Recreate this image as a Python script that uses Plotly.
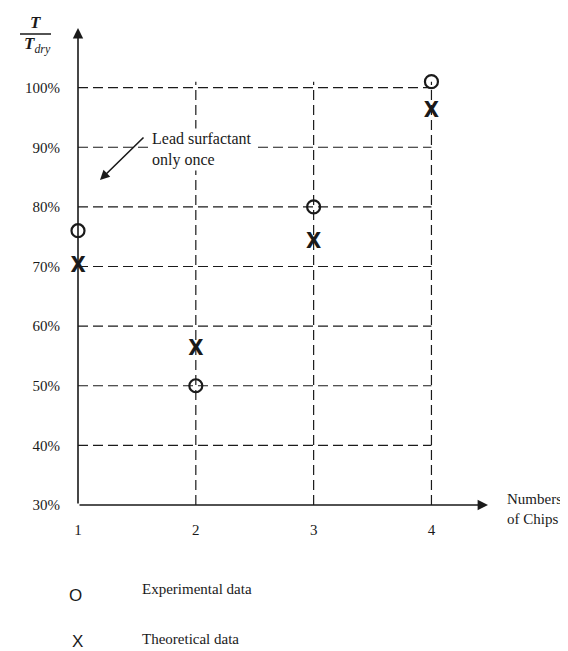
import plotly.graph_objects as go

# ---- data ----
chips = [1, 2, 3, 4]
experimental = [76, 50, 80, 101]
theoretical = [70, 56, 74, 96]
y_ticks = [30, 40, 50, 60, 70, 80, 90, 100]
y_tick_labels = ["30%", "40%", "50%", "60%", "70%", "80%", "90%", "100%"]
x_tick_labels = ["1", "2", "3", "4"]

W, H = 568, 651
L, R, T, B = 70, 88, 20, 154
XR = [1, 4.48]
YR = [30, 110]

def px(xp):
    return (xp - L) / (W - L - R)

def py(yp):
    return (H - B - yp) / (H - T - B)

SERIF = "Liberation Serif, Times New Roman, serif"
INK = "#1a1a1a"

fig = go.Figure()

fig.add_trace(go.Scatter(
    x=chips, y=experimental, mode="markers", name="Experimental data",
    marker=dict(symbol="circle-open", size=13, color=INK, line=dict(width=2.2, color=INK)),
    cliponaxis=False, showlegend=False))

fig.add_trace(go.Scatter(
    x=chips, y=theoretical, mode="text", text=["X"] * len(chips), name="Theoretical data",
    textfont=dict(family="DejaVu Sans Condensed, DejaVu Sans", size=22, color=INK, weight="bold"),
    textposition="middle center", cliponaxis=False, showlegend=False))

shapes = []
dash = "10px,5px"
for v in y_ticks[1:]:
    shapes.append(dict(type="line", xref="x", yref="y", x0=chips[0], x1=chips[-1], y0=v, y1=v,
                       line=dict(color=INK, width=1.2, dash=dash), layer="below"))
for c in chips[1:]:
    shapes.append(dict(type="line", xref="x", yref="y", x0=c, x1=c, y0=y_ticks[0], y1=y_ticks[-1] + 1,
                       line=dict(color=INK, width=1.2, dash=dash), layer="below"))
# fraction bar of axis label
shapes.append(dict(type="line", xref="paper", yref="paper", x0=px(12), x1=px(43), y0=py(26), y1=py(26),
                   line=dict(color=INK, width=1.5)))

def note(xp, yp, text, size=15, family=SERIF, xanchor="center", **kw):
    return dict(x=px(xp), y=py(yp), xref="paper", yref="paper", xanchor=xanchor, yanchor="middle",
                text=text, showarrow=False, font=dict(family=family, size=size, color=INK), **kw)

annotations = []
# axis arrows
annotations.append(dict(x=XR[0], y=YR[1], ax=XR[0], ay=YR[0], xref="x", yref="y", axref="x", ayref="y",
                        text="", showarrow=True, arrowhead=2, arrowsize=1.3, arrowwidth=1.6,
                        arrowcolor=INK, standoff=0, startstandoff=0))
annotations.append(dict(x=XR[1], y=YR[0], ax=XR[0], ay=YR[0], xref="x", yref="y", axref="x", ayref="y",
                        text="", showarrow=True, arrowhead=2, arrowsize=1.3, arrowwidth=1.6,
                        arrowcolor=INK, standoff=0, startstandoff=0))
# y-axis label T / T_dry
annotations.append(note(27, 15, "<b><i>T</i></b>", size=17))
annotations.append(note(29, 37, "<b><i>T</i></b><sub><i>dry</i></sub>", size=17))
# x-axis title
annotations.append(note(497, 501, "Numbers<br>of Chips", xanchor="left", align="left"))
# note with arrow
annotations.append(note(142, 141, "Lead surfactant<br>only once", size=16, xanchor="left",
                        align="left", bgcolor="white", borderpad=1))
annotations.append(dict(x=px(92), y=py(172), ax=45, ay=-44, xref="paper", yref="paper",
                        text="", showarrow=True, arrowhead=2, arrowsize=1.2, arrowwidth=1.6,
                        arrowcolor=INK, standoff=0))
# legend
annotations.append(note(67, 587, "O", size=17, family="Liberation Sans"))
annotations.append(note(132, 581, "Experimental data", xanchor="left"))
annotations.append(note(69, 633, "X", size=17, family="Liberation Sans"))
annotations.append(note(132, 631, "Theoretical data", xanchor="left"))

fig.update_layout(
    width=W, height=H, margin=dict(l=L, r=R, t=T, b=B, autoexpand=False),
    paper_bgcolor="white", plot_bgcolor="white", showlegend=False,
    shapes=shapes, annotations=annotations,
    xaxis=dict(range=XR, tickvals=chips, ticktext=x_tick_labels, showgrid=False, zeroline=False,
               showline=False, ticks="", ticklabelstandoff=14,
               tickfont=dict(family=SERIF, size=15, color=INK)),
    yaxis=dict(range=YR, tickvals=y_ticks, ticktext=y_tick_labels, showgrid=False, zeroline=False,
               showline=False, ticks="", ticklabelstandoff=17,
               tickfont=dict(family=SERIF, size=15, color=INK)),
)

fig.write_html("out.html")
